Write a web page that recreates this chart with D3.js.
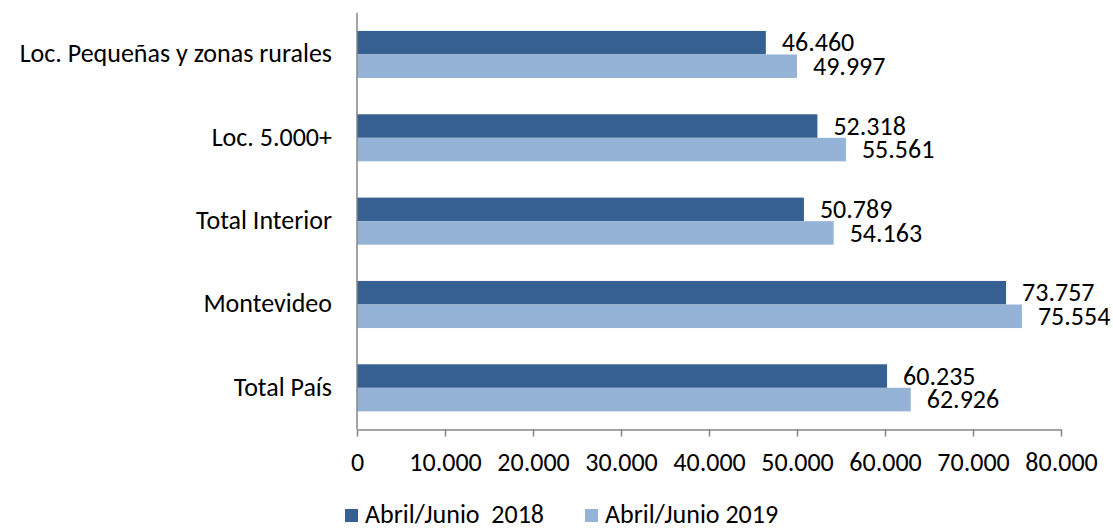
<!DOCTYPE html>
<html>
<head>
<meta charset="utf-8">
<script src="https://cdn.jsdelivr.net/npm/d3@7"></script>
<style>
  body { margin: 0; background: #fff; }
  text { font-family: Carlito, Calibri, "Open Sans", sans-serif; fill: #000; }
</style>
</head>
<body>
<div id="chart"></div>
<script>
const categories = ['Loc. Pequeñas y zonas rurales', 'Loc. 5.000+', 'Total Interior', 'Montevideo', 'Total País'];
const values2018 = [46460, 52318, 50789, 73757, 60235];
const values2019 = [49997, 55561, 54163, 75554, 62926];
const seriesNames = ['Abril/Junio  2018', 'Abril/Junio 2019'];
const xTicks = [0, 10000, 20000, 30000, 40000, 50000, 60000, 70000, 80000];

const width = 1113;
const height = 530;
const colors = ['#366092', '#95b3d7'];
const fontFamily = 'Carlito, Calibri, "Open Sans", sans-serif';
const fontSize = '26px';

// plot area
const plotLeft = 357, plotRight = 1061, plotTop = 12.8, plotBottom = 429.5;

const fmt = d3.formatLocale({decimal: ',', thousands: '.', grouping: [3], currency: ['', '']}).format(',d');

const svg = d3.select('#chart')
              .append('svg')
              .attr('width', width)
              .attr('height', height);

const xScale = d3.scaleLinear().domain([0, 80000]).range([plotLeft, plotRight]);
const yScale = d3.scaleBand().domain(categories).range([plotTop, plotBottom]).paddingInner(0.435).paddingOuter(0.2175);
const subScale = d3.scaleBand().domain([0, 1]).range([0, yScale.bandwidth()]);

const series = [values2018, values2019];

series.forEach(function(vals, s){
    svg.append('g')
       .selectAll('rect')
       .data(vals)
       .enter()
       .append('rect')
       .attr('x', xScale(0))
       .attr('y', (d, i) => yScale(categories[i]) + subScale(s))
       .attr('width', d => xScale(d) - xScale(0))
       .attr('height', subScale.bandwidth())
       .style('fill', colors[s]);

    svg.append('g')
       .selectAll('text')
       .data(vals)
       .enter()
       .append('text')
       .attr('x', d => xScale(d) + 16)
       .attr('y', (d, i) => yScale(categories[i]) + subScale(s) + subScale.bandwidth() / 2)
       .attr('dy', '0.33em')
       .style('font-size', fontSize)
       .text(d => fmt(d));
});

// x axis
const xAxis = d3.axisBottom(xScale).tickValues(xTicks).tickSize(7).tickSizeOuter(0).tickFormat(d => fmt(d));
const gx = svg.append('g')
              .attr('transform', 'translate(0,' + plotBottom + ')')
              .call(xAxis);
gx.select('.domain').attr('stroke', '#868686').attr('stroke-width', 1.5);
gx.selectAll('.tick line').attr('stroke', '#868686').attr('stroke-width', 1.5);
gx.selectAll('.tick text').attr('y', 23).style('font-size', fontSize).style('font-family', fontFamily).attr('fill', '#000');

// y axis
const yAxis = d3.axisLeft(yScale).tickSize(0).tickPadding(25);
const gy = svg.append('g')
              .attr('transform', 'translate(' + plotLeft + ',0)')
              .call(yAxis);
gy.select('.domain').attr('d', 'M0,' + plotTop + 'V' + plotBottom).attr('stroke', '#868686').attr('stroke-width', 1.5);
gy.selectAll('.tick text').attr('dy', '0.3em').style('font-size', fontSize).style('font-family', fontFamily).attr('fill', '#000');

// legend
const legendX = [345, 585];
const legend = svg.append('g');
seriesNames.forEach(function(name, s){
    legend.append('rect')
          .attr('x', legendX[s])
          .attr('y', 509)
          .attr('width', 13)
          .attr('height', 13)
          .style('fill', colors[s]);
    legend.append('text')
          .attr('x', legendX[s] + 20)
          .attr('y', 523)
          .style('font-size', fontSize)
          .style('white-space', 'pre')
          .attr('xml:space', 'preserve')
          .text(name);
});
</script>
</body>
</html>
